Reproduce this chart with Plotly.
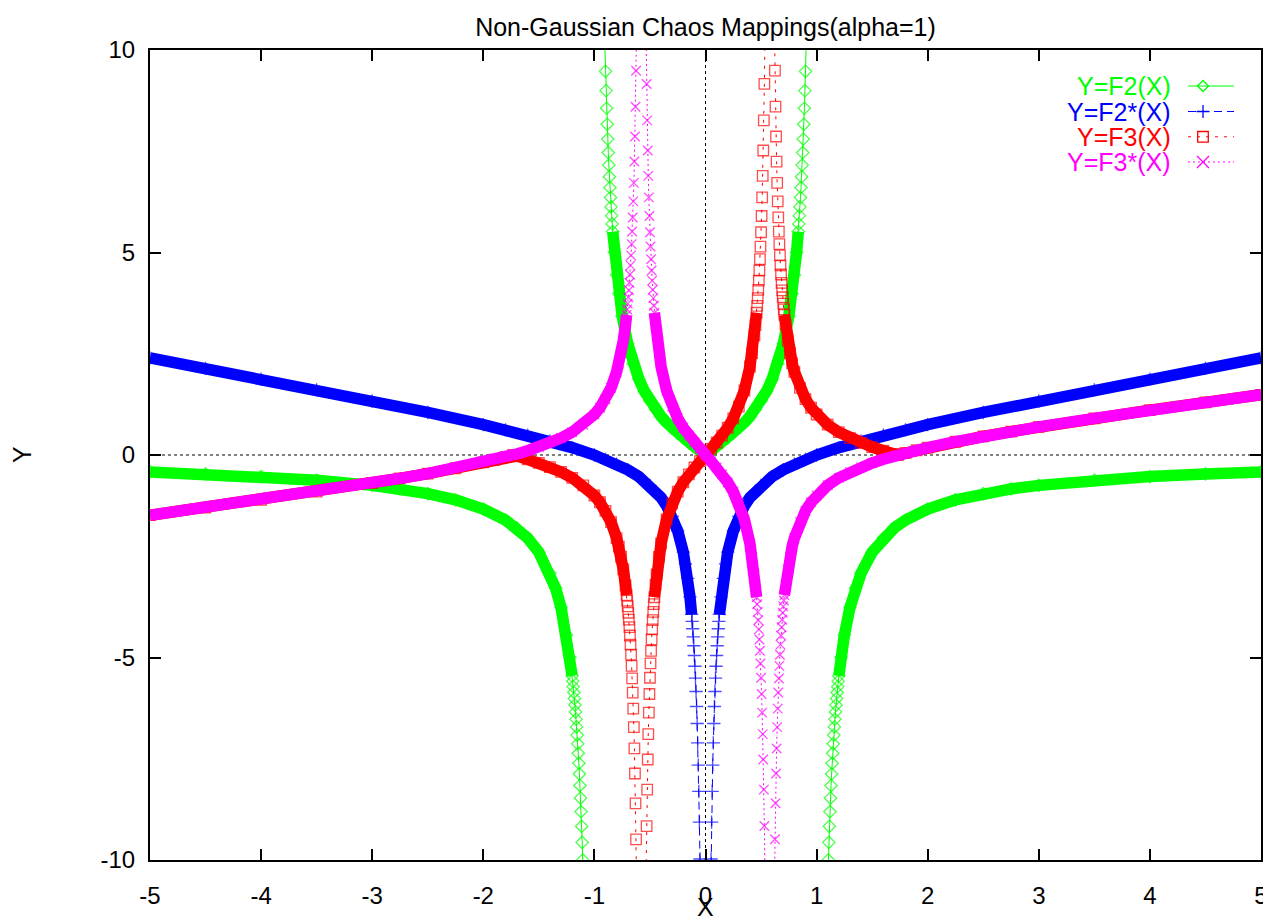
import plotly.graph_objects as go

# ---------------- data (None = break at a pole) ----------------
F2_X = [
    -5.0, -4.5, -4.0, -3.5, -3.0, -2.75, -2.5, -2.25, -2.0, -1.8, -1.7, -1.6, -1.5, -1.4, -1.35, -1.3, -1.25, -1.22,
    -1.2, -1.195, -1.19, -1.185, -1.18, -1.175, -1.17, -1.165, -1.16, -1.155, -1.15, -1.145, -1.14, -1.135, -1.13,
    -1.125, -1.12, -1.115, -1.11, -1.105, -1.1,
    None,
    -0.905, -0.9, -0.895, -0.89, -0.885, -0.88, -0.875, -0.87, -0.865, -0.86, -0.855, -0.85, -0.845, -0.84, -0.835,
    -0.82, -0.8, -0.78, -0.75, -0.7, -0.65, -0.6, -0.55, -0.5, -0.45, -0.4, -0.35, -0.3, -0.25, -0.2, -0.15, -0.1,
    -0.05, 0.0, 0.05, 0.1, 0.15, 0.2, 0.25, 0.3, 0.35, 0.4, 0.45, 0.5, 0.55, 0.6, 0.65, 0.7, 0.75, 0.78, 0.8, 0.82,
    0.835, 0.84, 0.845, 0.85, 0.855, 0.86, 0.865, 0.87, 0.875, 0.88, 0.885, 0.89, 0.895, 0.9, 0.905,
    None,
    1.1, 1.105, 1.11, 1.115, 1.12, 1.125, 1.13, 1.135, 1.14, 1.145, 1.15, 1.155, 1.16, 1.165, 1.17, 1.175, 1.18,
    1.185, 1.19, 1.195, 1.2, 1.22, 1.25, 1.3, 1.35, 1.4, 1.5, 1.6, 1.7, 1.8, 2.0, 2.25, 2.5, 2.75, 3.0, 3.5, 4.0,
    4.5, 5.0,
]
F2_Y = [
    -0.4167, -0.4675, -0.5333, -0.6222, -0.75, -0.8381, -0.9524, -1.1077, -1.3333, -1.6071, -1.7989, -2.0513, -2.4,
    -2.9167, -3.2827, -3.7681, -4.4444, -4.9959, -5.4545, -5.5838, -5.7198, -5.8631, -6.0143, -6.1741, -6.3432,
    -6.5225, -6.713, -6.9157, -7.1318, -7.3628, -7.6101, -7.8758, -8.1618, -8.4706, -8.805, -9.1685, -9.5648,
    -9.9989, -10.476,
    None,
    10.0014, 9.4737, 8.9961, 8.5618, 8.1652, 7.8014, 7.4667, 7.1576, 6.8712, 6.6052, 6.3575, 6.1261, 5.9096, 5.7065,
    5.5156, 5.0061, 4.4444, 3.9837, 3.4286, 2.7451, 2.2511, 1.875, 1.5771, 1.3333, 1.1285, 0.9524, 0.7977, 0.6593,
    0.5333, 0.4167, 0.3069, 0.202, 0.1003, 0.0, 0.1003, 0.202, 0.3069, 0.4167, 0.5333, 0.6593, 0.7977, 0.9524,
    1.1285, 1.3333, 1.5771, 1.875, 2.2511, 2.7451, 3.4286, 3.9837, 4.4444, 5.0061, 5.5156, 5.7065, 5.9096, 6.1261,
    6.3575, 6.6052, 6.8712, 7.1576, 7.4667, 7.8014, 8.1652, 8.5618, 8.9961, 9.4737, 10.0014,
    None,
    -10.476, -9.9989, -9.5648, -9.1685, -8.805, -8.4706, -8.1618, -7.8758, -7.6101, -7.3628, -7.1318, -6.9157,
    -6.713, -6.5225, -6.3432, -6.1741, -6.0143, -5.8631, -5.7198, -5.5838, -5.4545, -4.9959, -4.4444, -3.7681,
    -3.2827, -2.9167, -2.4, -2.0513, -1.7989, -1.6071, -1.3333, -1.1077, -0.9524, -0.8381, -0.75, -0.6222, -0.5333,
    -0.4675, -0.4167,
]

F2S_X = [
    -5.0, -4.5, -4.0, -3.5, -3.0, -2.5, -2.0, -1.8, -1.6, -1.4, -1.2, -1.0, -0.9, -0.8, -0.7, -0.6, -0.5, -0.4,
    -0.35, -0.3, -0.25, -0.2, -0.18, -0.16, -0.14, -0.125, -0.12, -0.115, -0.11, -0.105, -0.1, -0.095, -0.09,
    -0.085, -0.08, -0.075, -0.07, -0.065, -0.06, -0.055, -0.05, -0.045,
    None,
    0.045, 0.05, 0.055, 0.06, 0.065, 0.07, 0.075, 0.08, 0.085, 0.09, 0.095, 0.1, 0.105, 0.11, 0.115, 0.12, 0.125,
    0.14, 0.16, 0.18, 0.2, 0.25, 0.3, 0.35, 0.4, 0.5, 0.6, 0.7, 0.8, 0.9, 1.0, 1.2, 1.4, 1.6, 1.8, 2.0, 2.5, 3.0,
    3.5, 4.0, 4.5, 5.0,
]
F2S_Y = [
    2.4, 2.1389, 1.875, 1.6071, 1.3333, 1.05, 0.75, 0.6222, 0.4875, 0.3429, 0.1833, 0.0, -0.1056, -0.225, -0.3643,
    -0.5333, -0.75, -1.05, -1.2536, -1.5167, -1.875, -2.4, -2.6878, -3.045, -3.5014, -3.9375, -4.1067, -4.2903,
    -4.4905, -4.7094, -4.95, -5.2157, -5.5106, -5.8399, -6.21, -6.6292, -7.1079, -7.6598, -8.3033, -9.0634, -9.975,
    -11.089,
    None,
    -11.089, -9.975, -9.0634, -8.3033, -7.6598, -7.1079, -6.6292, -6.21, -5.8399, -5.5106, -5.2157, -4.95, -4.7094,
    -4.4905, -4.2903, -4.1067, -3.9375, -3.5014, -3.045, -2.6878, -2.4, -1.875, -1.5167, -1.2536, -1.05, -0.75,
    -0.5333, -0.3643, -0.225, -0.1056, 0.0, 0.1833, 0.3429, 0.4875, 0.6222, 0.75, 1.05, 1.3333, 1.6071, 1.875,
    2.1389, 2.4,
]

F3_X = [
    -5.0, -4.5, -4.0, -3.5, -3.0, -2.75, -2.5, -2.25, -2.0, -1.9, -1.8, -1.732, -1.7, -1.6, -1.5, -1.4, -1.3, -1.2,
    -1.1, -1.0, -0.95, -0.9, -0.85, -0.8, -0.78, -0.76, -0.74, -0.72, -0.71, -0.705, -0.7, -0.695, -0.69, -0.685,
    -0.68, -0.675, -0.67, -0.665, -0.66, -0.655, -0.65, -0.645, -0.64, -0.635, -0.63, -0.625, -0.62,
    None,
    -0.535, -0.53, -0.525, -0.52, -0.515, -0.51, -0.505, -0.5, -0.495, -0.49, -0.485, -0.48, -0.475, -0.47, -0.465,
    -0.46, -0.45, -0.44, -0.42, -0.4, -0.35, -0.3, -0.25, -0.2, -0.15, -0.1, -0.05, 0.0, 0.05, 0.1, 0.15, 0.2, 0.25,
    0.3, 0.35, 0.4, 0.42, 0.44, 0.45, 0.46, 0.465, 0.47, 0.475, 0.48, 0.485, 0.49, 0.495, 0.5, 0.505, 0.51, 0.515,
    0.52, 0.525, 0.53, 0.535,
    None,
    0.62, 0.625, 0.63, 0.635, 0.64, 0.645, 0.65, 0.655, 0.66, 0.665, 0.67, 0.675, 0.68, 0.685, 0.69, 0.695, 0.7,
    0.705, 0.71, 0.72, 0.74, 0.76, 0.78, 0.8, 0.85, 0.9, 0.95, 1.0, 1.1, 1.2, 1.3, 1.4, 1.5, 1.6, 1.7, 1.732, 1.8,
    1.9, 2.0, 2.25, 2.5, 2.75, 3.0, 3.5, 4.0, 4.5, 5.0,
]
F3_Y = [
    -1.4865, -1.2992, -1.1064, -0.9056, -0.6923, -0.5785, -0.4577, -0.3271, -0.1818, -0.1179, -0.0495, 0.0, -0.0244,
    -0.1054, -0.1957, -0.2984, -0.4184, -0.5639, -0.7487, -1.0, -1.167, -1.3783, -1.6582, -2.0522, -2.2606, -2.5123,
    -2.8232, -3.2182, -3.4591, -3.5933, -3.7383, -3.8953, -4.0661, -4.2524, -4.4565, -4.6813, -4.93, -5.2068,
    -5.5166, -5.866, -6.2631, -6.7184, -7.2459, -7.8643, -8.5997, -9.4886, -10.585,
    None,
    -10.273, -9.1616, -8.2617, -7.518, -6.8929, -6.3603, -5.9007, -5.5, -5.1475, -4.835, -4.5559, -4.3051, -4.0784,
    -3.8725, -3.6845, -3.5122, -3.2073, -2.9457, -2.519, -2.1846, -1.5923, -1.1959, -0.9038, -0.6727, -0.479,
    -0.3082, -0.151, 0.0, 0.151, 0.3082, 0.479, 0.6727, 0.9038, 1.1959, 1.5923, 2.1846, 2.519, 2.9457, 3.2073,
    3.5122, 3.6845, 3.8725, 4.0784, 4.3051, 4.5559, 4.835, 5.1475, 5.5, 5.9007, 6.3603, 6.8929, 7.518, 8.2617,
    9.1616, 10.273,
    None,
    10.585, 9.4886, 8.5997, 7.8643, 7.2459, 6.7184, 6.2631, 5.866, 5.5166, 5.2068, 4.93, 4.6813, 4.4565, 4.2524,
    4.0661, 3.8953, 3.7383, 3.5933, 3.4591, 3.2182, 2.8232, 2.5123, 2.2606, 2.0522, 1.6582, 1.3783, 1.167, 1.0,
    0.7487, 0.5639, 0.4184, 0.2984, 0.1957, 0.1054, 0.0244, 0.0, 0.0495, 0.1179, 0.1818, 0.3271, 0.4577, 0.5785,
    0.6923, 0.9056, 1.1064, 1.2992, 1.4865,
]
F3S_Y = [
    -1.4865, -1.2992, -1.1064, -0.9056, -0.6923, -0.5785, -0.4577, -0.3271, -0.1818, -0.1179, -0.0495, 0.0, 0.0244,
    0.1054, 0.1957, 0.2984, 0.4184, 0.5639, 0.7487, 1.0, 1.167, 1.3783, 1.6582, 2.0522, 2.2606, 2.5123, 2.8232,
    3.2182, 3.4591, 3.5933, 3.7383, 3.8953, 4.0661, 4.2524, 4.4565, 4.6813, 4.93, 5.2068, 5.5166, 5.866, 6.2631,
    6.7184, 7.2459, 7.8643, 8.5997, 9.4886, 10.585,
    None,
    10.273, 9.1616, 8.2617, 7.518, 6.8929, 6.3603, 5.9007, 5.5, 5.1475, 4.835, 4.5559, 4.3051, 4.0784, 3.8725,
    3.6845, 3.5122, 3.2073, 2.9457, 2.519, 2.1846, 1.5923, 1.1959, 0.9038, 0.6727, 0.479, 0.3082, 0.151, 0.0,
    -0.151, -0.3082, -0.479, -0.6727, -0.9038, -1.1959, -1.5923, -2.1846, -2.519, -2.9457, -3.2073, -3.5122,
    -3.6845, -3.8725, -4.0784, -4.3051, -4.5559, -4.835, -5.1475, -5.5, -5.9007, -6.3603, -6.8929, -7.518, -8.2617,
    -9.1616, -10.273,
    None,
    -10.585, -9.4886, -8.5997, -7.8643, -7.2459, -6.7184, -6.2631, -5.866, -5.5166, -5.2068, -4.93, -4.6813,
    -4.4565, -4.2524, -4.0661, -3.8953, -3.7383, -3.5933, -3.4591, -3.2182, -2.8232, -2.5123, -2.2606, -2.0522,
    -1.6582, -1.3783, -1.167, -1.0, -0.7487, -0.5639, -0.4184, -0.2984, -0.1957, -0.1054, -0.0244, 0.0, 0.0495,
    0.1179, 0.1818, 0.3271, 0.4577, 0.5785, 0.6923, 0.9056, 1.1064, 1.2992, 1.4865,
]

NAMES = ["Y=F2(X)", "Y=F2*(X)", "Y=F3(X)", "Y=F3*(X)"]
X_TICKS = [-5, -4, -3, -2, -1, 0, 1, 2, 3, 4, 5]
Y_TICKS = [-10, -5, 0, 5, 10]

assert len(F2_X) == len(F2_Y)
assert len(F2S_X) == len(F2S_Y)
assert len(F3_X) == len(F3_Y) == len(F3S_Y)

# ---------------- styling ----------------
FONT = "Liberation Sans, Arial, Helvetica, sans-serif"
GREEN, BLUE, RED, MAGENTA = "#00ff00", "#0000ff", "#ff0000", "#ff00ff"
YLIM = 10.0

series = [
    # x, y, colour, symbol, marker size, dash, band limit
    (F2_X, F2_Y, GREEN, "diamond-open", 9.5, "solid", 5.52),
    (F2S_X, F2S_Y, BLUE, "cross-thin", 9.5, "8px,5px", 4.0),
    (F3_X, F3_Y, RED, "square-open", 10.5, "3px,6px", 3.52),
    (F3_X, F3S_Y, MAGENTA, "x-thin", 9.5, "2px,3px", 3.52),
]


def band_of(ys, lim):
    return [v if (v is not None and abs(v) <= lim) else None for v in ys]


def sizes_of(ys, s):
    return [s if (v is not None and abs(v) <= YLIM) else 0 for v in ys]


fig = go.Figure()
for (xs, ys, col, sym, msz, dash, lim), name in zip(series, NAMES):
    # dense-sample look: a thick band where the samples overlap
    fig.add_trace(go.Scatter(
        x=xs, y=band_of(ys, lim), mode="lines", connectgaps=False,
        line=dict(color=col, width=11.5), hoverinfo="skip", showlegend=False))
    # points + thin connecting line
    fig.add_trace(go.Scatter(
        x=xs, y=ys, mode="lines+markers", name=name, connectgaps=False,
        line=dict(color=col, width=1, dash=dash),
        marker=dict(symbol=sym, size=sizes_of(ys, msz), color=col,
                    line=dict(color=col, width=1.3)),
        showlegend=False))

# ---------------- geometry (page pixels; the page body has an 8px margin) ----------------
OFF = 8
PX0, PX1, PY0, PY1 = 150, 1261, 50, 860   # plot area in page pixels
ML, MR, MT, MB = PX0 - OFF, 10, PY0 - OFF, 62
W = ML + (PX1 - PX0) + MR
H = MT + (PY1 - PY0) + MB


def px(xp):
    return (xp - PX0) / (PX1 - PX0)


def py(yp):
    return (PY1 - yp) / (PY1 - PY0)


shapes = [
    dict(type="line", xref="x", yref="paper", x0=0, x1=0, y0=0, y1=1, layer="below",
         line=dict(color="black", width=1, dash="dot")),
    dict(type="line", xref="paper", yref="y", x0=0, x1=1, y0=0, y1=0, layer="below",
         line=dict(color="black", width=1, dash="dot")),
]
annotations = []

rows = [86, 111.5, 136.8, 162]
glyphs = [
    "M-5.5,0L0,5.5L5.5,0L0,-5.5Z",
    "M-6.5,0H6.5M0,-6.5V6.5",
    "M-5.3,-5.3H5.3V5.3H-5.3Z",
    "M-6,-6L6,6M-6,6L6,-6",
]
for (xs, ys, col, sym, msz, dash, lim), name, r, g in zip(series, NAMES, rows, glyphs):
    annotations.append(dict(text=name, xref="paper", yref="paper", x=px(1173), y=py(r),
                            xanchor="right", yanchor="middle", showarrow=False,
                            font=dict(family=FONT, size=25, color=col)))
    shapes.append(dict(type="line", xref="paper", yref="paper", x0=px(1188), x1=px(1234),
                       y0=py(r), y1=py(r), line=dict(color=col, width=1, dash=dash)))
    shapes.append(dict(type="path", xref="paper", yref="paper", xsizemode="pixel", ysizemode="pixel",
                       xanchor=px(1203), yanchor=py(r), path=g,
                       fillcolor="rgba(0,0,0,0)", line=dict(color=col, width=1.3)))

annotations.append(dict(text="X", xref="paper", yref="paper", x=0.5, y=py(907),
                        xanchor="center", yanchor="middle", showarrow=False,
                        font=dict(family=FONT, size=25, color="black")))
annotations.append(dict(text="Y", xref="paper", yref="paper", x=px(22), y=0.5, textangle=-90,
                        xanchor="center", yanchor="middle", showarrow=False,
                        font=dict(family=FONT, size=25, color="black")))

axis_common = dict(showgrid=False, zeroline=False, showline=True, linecolor="black", linewidth=2,
                   mirror="ticks", ticks="inside", ticklen=11, tickwidth=2, tickcolor="black",
                   automargin=False,
                   tickfont=dict(family=FONT, size=24, color="black"))

fig.update_layout(
    width=W, height=H,
    margin=dict(l=ML, r=MR, t=MT, b=MB, autoexpand=False),
    paper_bgcolor="white", plot_bgcolor="white",
    showlegend=False, hovermode=False,
    font=dict(family=FONT, size=24, color="black"),
    title=dict(text="Non-Gaussian Chaos Mappings(alpha=1)", x=0.5, xref="paper", xanchor="center",
               y=1 - (27 - OFF) / H, yref="container", yanchor="middle", automargin=False,
               font=dict(family=FONT, size=25, color="black")),
    xaxis=dict(range=[-5, 5], tickvals=X_TICKS, ticktext=[str(v) for v in X_TICKS],
               ticklabelstandoff=13, **axis_common),
    yaxis=dict(range=[-10, 10], tickvals=Y_TICKS, ticktext=[str(v) for v in Y_TICKS],
               ticklabelstandoff=8, **axis_common),
    shapes=shapes, annotations=annotations,
)

fig.write_html("out.html")
